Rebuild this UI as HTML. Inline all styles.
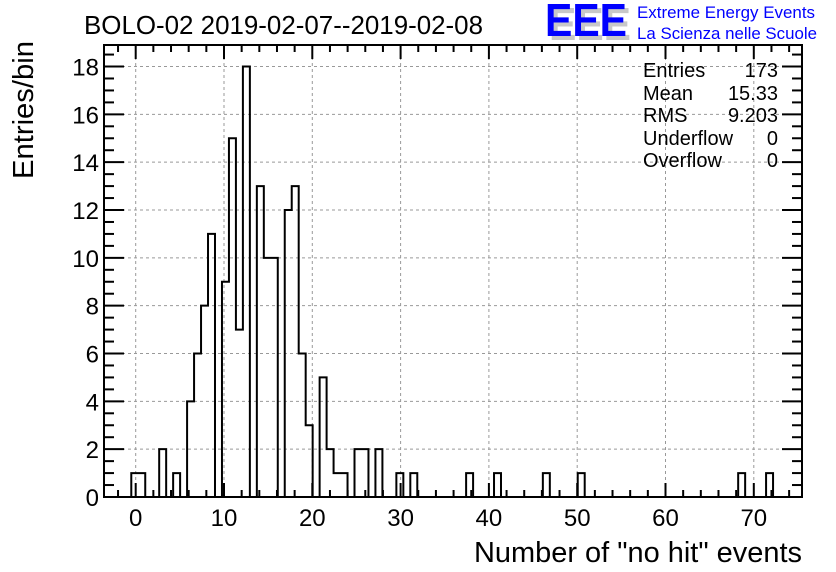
<!DOCTYPE html>
<html><head><meta charset="utf-8"><style>
body{margin:0;background:#fff;}
svg{display:block;font-family:"Liberation Sans",Arial,sans-serif;}
</style></head><body>
<svg id="c" width="836" height="572" viewBox="0 0 836 572" xmlns="http://www.w3.org/2000/svg">
<rect width="836" height="572" fill="#fff"/>
<g id="grid"></g>
<g id="hist"></g>
<g id="axes"></g>
<text x="84" y="34" font-size="26" textLength="399" lengthAdjust="spacingAndGlyphs">BOLO-02 2019-02-07--2019-02-08</text>
<g>
<text x="549" y="40" font-size="46" font-weight="bold" fill="#c8c8c8" textLength="82" lengthAdjust="spacingAndGlyphs">EEE</text>
<text x="545" y="36" font-size="46" font-weight="bold" fill="#0000ff" textLength="82" lengthAdjust="spacingAndGlyphs">EEE</text>
<text x="637" y="18" font-size="17" fill="#0000ff" textLength="178" lengthAdjust="spacingAndGlyphs">Extreme Energy Events</text>
<text x="637" y="39" font-size="17" fill="#0000ff" textLength="180" lengthAdjust="spacingAndGlyphs">La Scienza nelle Scuole</text>
</g>
<g font-size="20">
<text x="643" y="77">Entries</text><text x="778" y="77" text-anchor="end">173</text>
<text x="643" y="100">Mean</text><text x="778" y="100" text-anchor="end">15.33</text>
<text x="643" y="122">RMS</text><text x="778" y="122" text-anchor="end">9.203</text>
<text x="643" y="145">Underflow</text><text x="778" y="145" text-anchor="end">0</text>
<text x="643" y="167">Overflow</text><text x="778" y="167" text-anchor="end">0</text>
</g>
<text transform="translate(33,179) rotate(-90)" font-size="29" textLength="138" lengthAdjust="spacingAndGlyphs">Entries/bin</text>
<text x="802" y="562" font-size="29" text-anchor="end" textLength="328" lengthAdjust="spacingAndGlyphs">Number of "no hit" events</text>
</svg>
<script>
const binLow = -0.5;
const binWidth = 0.79;
const binIndex = [0,1,4,6,8,9,10,11,13,14,15,16,18,19,20,22,23,24,25,27,28,29,30,32,33,35,38,40,48,52,59,64,87,91];
const binCounts = [1,1,2,1,4,6,8,11,9,15,7,18,13,10,10,12,13,6,3,5,2,1,1,2,2,2,1,1,1,1,1,1,1,1];
const xTicks = [0,10,20,30,40,50,60,70];
const yTicks = [0,2,4,6,8,10,12,14,16,18];

const L=104,R=802,T=45,B=497;
const X0=135.7,XS=8.83;
const YMAX=18.9;
const sx=v=>X0+v*XS;
const sy=v=>B-(v/YMAX)*(B-T);
const NS='http://www.w3.org/2000/svg';
function mk(tag,parent,attrs){const e=document.createElementNS(NS,tag);for(const k in attrs)e.setAttribute(k,attrs[k]);parent.appendChild(e);return e;}
const grid=document.getElementById('grid'),hist=document.getElementById('hist'),axes=document.getElementById('axes');

xTicks.forEach(v=>{const l=mk('line',grid,{x1:sx(v),x2:sx(v),y1:T,y2:B,stroke:'#999','stroke-dasharray':'3,3'});

});
yTicks.forEach(v=>{if(v===0)return;const l=mk('line',grid,{x1:L,x2:R,y1:sy(v),y2:sy(v),stroke:'#999','stroke-dasharray':'3,3'});

});

const counts=new Array(100).fill(0);
binIndex.forEach((k,i)=>counts[k]=binCounts[i]);
let d='';
for(let k=0;k<100;k++){
  const x1=sx(binLow+k*binWidth),x2=sx(binLow+(k+1)*binWidth);
  if(x1>R)break;
  const c=counts[k];
  if(k===0)d+='M'+x1+','+sy(0);
  d+=' L'+x1+','+sy(c)+' L'+Math.min(x2,R)+','+sy(c);
}
const p=mk('path',hist,{d:d,fill:'none',stroke:'#000','stroke-width':2});



const f=mk('rect',axes,{x:L,y:T,width:R-L,height:B-T,fill:'none',stroke:'#000','stroke-width':2});


for(let v=-2;v<=74;v+=2){const X=sx(v);if(X<L||X>R)continue;const maj=v%10===0;const h=maj?14:7;
  mk('line',axes,{x1:X,x2:X,y1:B,y2:B-h,stroke:'#000','stroke-width':2});
  mk('line',axes,{x1:X,x2:X,y1:T,y2:T+h,stroke:'#000','stroke-width':2});}
xTicks.forEach(v=>{const t=mk('text',axes,{x:sx(v),y:526,'font-size':24,'text-anchor':'middle'});t.textContent=v;

});
for(let v=0;v<=18.75;v+=0.5){const Y=sy(v);const maj=v%2===0;const h=maj?20:10;
  mk('line',axes,{x1:L,x2:L+h,y1:Y,y2:Y,stroke:'#000','stroke-width':2});
  mk('line',axes,{x1:R,x2:R-h,y1:Y,y2:Y,stroke:'#000','stroke-width':2});}
yTicks.forEach(v=>{const t=mk('text',axes,{x:99,y:sy(v)+9,'font-size':24,'text-anchor':'end'});t.textContent=v;

});
</script>
</body></html>
